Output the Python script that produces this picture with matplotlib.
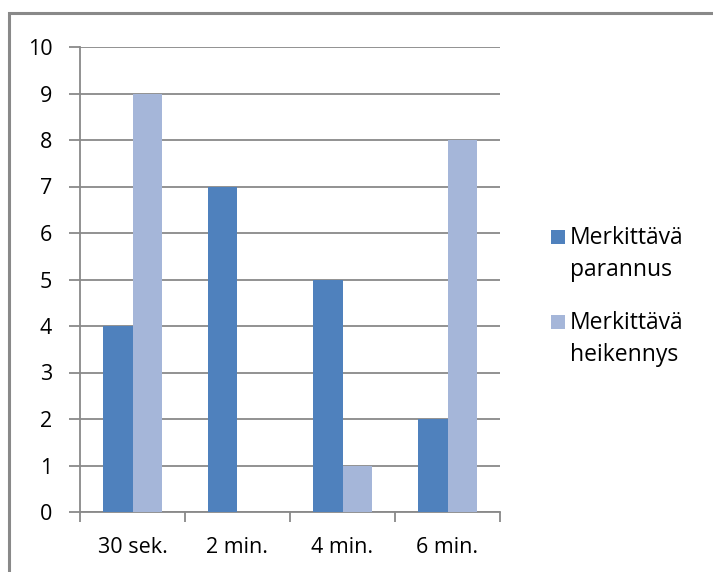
import matplotlib
matplotlib.use("Agg")
import matplotlib.pyplot as plt
from matplotlib.patches import Rectangle
import numpy as np

categories = ["30 sek.", "2 min.", "4 min.", "6 min."]
series_names = ["Merkittävä\nparannus", "Merkittävä\nheikennys"]
parannus = [4, 7, 5, 2]
heikennys = [9, 0, 1, 8]
colors = ["#4F81BD", "#A5B6D9"]
yticks = list(range(0, 11))

W, H = 713, 572
fig = plt.figure(figsize=(W / 100, H / 100), dpi=100)
plt.rcParams['font.family'] = ['Open Sans', 'DejaVu Sans']

grey = "#898989"
# outer chart border (top & left visible)
fig.patches.append(Rectangle((9 / W, -0.1), 1.2, (H - 13) / H + 0.1, transform=fig.transFigure,
                             fill=False, edgecolor=grey, linewidth=2.2))

ax = fig.add_axes([80 / W, 60 / H, 420 / W, 465 / H])
x = np.arange(len(categories))
bw = 0.285
ax.bar(x - bw / 2, parannus, width=bw, color=colors[0], zorder=3)
ax.bar(x + bw / 2, heikennys, width=bw, color=colors[1], zorder=3)

fs = 15.5
ax.set_xlim(-0.5, len(categories) - 0.5)
ax.set_ylim(0, 10)
ax.set_yticks(yticks)
ax.set_yticklabels([str(v) for v in yticks], fontsize=fs)
ax.yaxis.grid(True, color=grey, linewidth=1.3, zorder=0)
ax.set_axisbelow(True)
ax.tick_params(axis='y', length=8, width=1.3, color=grey, pad=12)
ax.set_xticks(x)
ax.set_xticklabels(categories, fontsize=fs)
ax.tick_params(axis='x', length=0, pad=18)
ax.set_xticks(np.arange(-0.5, len(categories)), minor=True)
ax.tick_params(axis='x', which='minor', length=7, width=1.3, color=grey)
for s in ['top', 'right']:
    ax.spines[s].set_visible(False)
for s in ['left', 'bottom']:
    ax.spines[s].set_color(grey)
    ax.spines[s].set_linewidth(1.3)

# legend
leg_y = [237, 322]
for name, c, yc in zip(series_names, colors, leg_y):
    fig.patches.append(Rectangle((551 / W, (H - yc - 7) / H), 14 / W, 14 / H,
                                 transform=fig.transFigure, facecolor=c, edgecolor='none'))
    fig.text(570 / W, (H - yc + 11) / H, name, fontsize=16.5, va='top', ha='left',
             linespacing=1.42)

fig.savefig("out.png", dpi=100)
